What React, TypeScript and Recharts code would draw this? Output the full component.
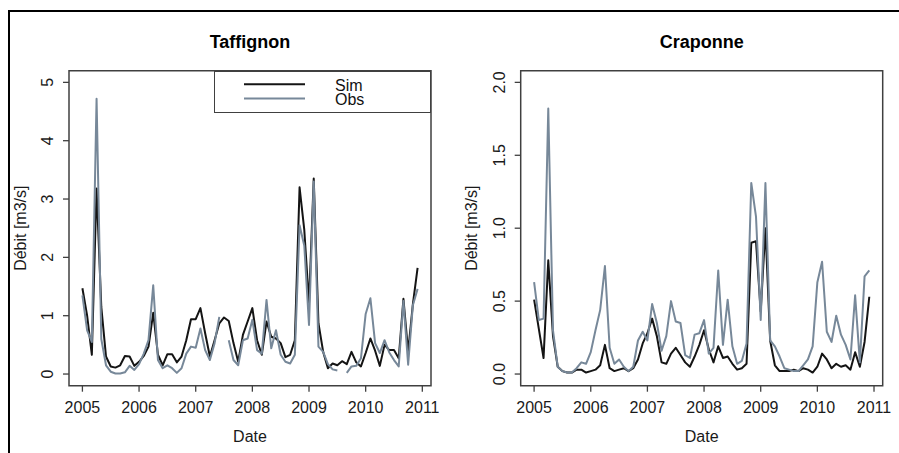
import React from 'react';
import { LineChart, Line, XAxis, YAxis, ReferenceArea, Legend } from 'recharts';

// monthly series, Jan 2005 .. Dec 2010
const startYear = 2005;
const yearTicks = [2005, 2006, 2007, 2008, 2009, 2010, 2011];

const taffignonSim = [
  1.47, 1.0, 0.33, 3.18, 1.15, 0.3, 0.13, 0.11, 0.15, 0.31, 0.3, 0.14,
  0.21, 0.31, 0.47, 1.05, 0.33, 0.15, 0.34, 0.34, 0.2, 0.3, 0.58, 0.94,
  0.94, 1.13, 0.7, 0.3, 0.58, 0.87, 0.97, 0.91, 0.53, 0.21, 0.67, 0.9,
  1.13, 0.58, 0.33, 0.9, 0.64, 0.61, 0.53, 0.29, 0.33, 0.58, 3.2, 2.47,
  1.21, 3.35, 0.87, 0.38, 0.1, 0.18, 0.15, 0.22, 0.17, 0.38, 0.2, 0.13,
  0.36, 0.61, 0.4, 0.14, 0.5, 0.41, 0.41, 0.27, 1.29, 0.38, 1.2, 1.82,
];
const taffignonObs = [
  1.35, 0.75, 0.55, 4.72, 0.6, 0.15, 0.04, 0.01, 0.01, 0.03, 0.14, 0.07,
  0.17, 0.35, 0.58, 1.52, 0.24, 0.1, 0.15, 0.1, 0.02, 0.1, 0.35, 0.47,
  0.45, 0.78, 0.41, 0.24, 0.53, 0.98, null, 0.58, 0.24, 0.15, 0.58, 0.61,
  0.93, 0.41, 0.35, 1.27, 0.44, 0.75, 0.33, 0.21, 0.18, 0.33, 2.55, 2.2,
  0.84, 3.3, 0.47, 0.38, 0.17, 0.08, 0.06, null, 0.02, 0.13, 0.14, 0.27,
  1.03, 1.3, 0.53, 0.36, 0.58, 0.37, 0.24, 0.13, 1.25, 0.16, 1.18, 1.46,
];
const craponneSim = [
  0.51, 0.31, 0.11, 0.78, 0.26, 0.05, 0.02, 0.01, 0.01, 0.03, 0.03, 0.01,
  0.02, 0.03, 0.06, 0.2, 0.04, 0.02, 0.03, 0.04, 0.02, 0.04, 0.1, 0.21,
  0.28, 0.38, 0.26, 0.08, 0.07, 0.14, 0.18, 0.13, 0.08, 0.05, 0.12, 0.2,
  0.3, 0.17, 0.08, 0.19, 0.11, 0.12, 0.07, 0.03, 0.04, 0.07, 0.9, 0.91,
  0.43, 1.0, 0.23, 0.06, 0.02, 0.02, 0.02, 0.03, 0.02, 0.04, 0.03, 0.01,
  0.05, 0.14, 0.1, 0.04, 0.07, 0.05, 0.06, 0.03, 0.15, 0.05, 0.22, 0.53,
];
const craponneObs = [
  0.63, 0.37, 0.38, 1.82, 0.3, 0.05, 0.02, 0.01, 0.01, 0.04, 0.08, 0.07,
  0.15, 0.3, 0.44, 0.74, 0.18, 0.07, 0.1, 0.05, 0.02, 0.05, 0.23, 0.29,
  0.23, 0.48, 0.35, 0.16, 0.26, 0.5, 0.36, 0.35, 0.13, 0.11, 0.27, 0.28,
  0.37, 0.14, 0.18, 0.71, 0.2, 0.51, 0.19, 0.07, 0.09, 0.21, 1.31, 1.08,
  0.37, 1.31, 0.23, 0.19, 0.12, 0.04, 0.03, 0.02, 0.02, 0.06, 0.1, 0.19,
  0.63, 0.77, 0.29, 0.22, 0.4, 0.27, 0.2, 0.1, 0.54, 0.08, 0.67, 0.71,
];

const taffignonTicks = [0, 1, 2, 3, 4, 5];
const taffignonTickLabels = ['0', '1', '2', '3', '4', '5'];
const craponneTicks = [0, 0.5, 1, 1.5, 2];
const craponneTickLabels = ['0.0', '0.5', '1.0', '1.5', '2.0'];

const FONT = '"Liberation Sans", Arial, Helvetica, sans-serif';
const SIM_COLOR = '#141414';
const OBS_COLOR = '#778899';
const FRAME = '#404040';
const H = 453;
const PLOT_TOP = 70.7;
const PLOT_BOTTOM = 385.7;

const lastX = startYear + (taffignonSim.length - 1) / 12;
const pad = 0.04 * (lastX - startYear);
const xDomain: [number, number] = [startYear - pad, lastX + pad];

const buildRows = (sim: number[], obs: (number | null)[]) =>
  sim.map((s, i) => ({ date: startYear + i / 12, sim: s, obs: obs[i] }));

const LegendBox = () => (
  <div style={{ width: 217, height: 42, boxSizing: 'border-box', border: `1.3px solid ${FRAME}`, background: '#fff' }}>
    <svg width={217} height={42} style={{ position: 'absolute', left: 0, top: 0 }}>
      <line x1={30} x2={91} y1={13.3} y2={13.3} stroke={SIM_COLOR} strokeWidth={2} />
      <line x1={30} x2={91} y1={27.6} y2={27.6} stroke={OBS_COLOR} strokeWidth={2} />
      <text x={121} y={20} fontFamily={FONT} fontSize={16} fill="#111">Sim</text>
      <text x={121} y={34} fontFamily={FONT} fontSize={16} fill="#111">Obs</text>
    </svg>
  </div>
);

interface PanelProps {
  title: string;
  sim: number[];
  obs: (number | null)[];
  yTicks: number[];
  yLabels: string[];
  left: number;
  width: number;
  plotLeft: number;
  plotRight: number;
  legend?: boolean;
}

const Panel: React.FC<PanelProps> = ({ title, sim, obs, yTicks, yLabels, left, width, plotLeft, plotRight, legend }) => {
  const rows = buildRows(sim, obs);
  const yMax = yTicks[yTicks.length - 1];
  const yDomain: [number, number] = [-0.04 * yMax, 1.04 * yMax];
  const cx = (plotLeft + plotRight) / 2;
  const cy = (PLOT_TOP + PLOT_BOTTOM) / 2;

  return (
    <div style={{ position: 'absolute', left, top: 0, width, height: H }}>
      <div
        style={{
          position: 'absolute', left: cx, top: 33, transform: 'translateX(-50%)',
          fontFamily: FONT, fontSize: 18, fontWeight: 'bold', lineHeight: '18px', whiteSpace: 'nowrap', color: '#000',
        }}
      >
        {title}
      </div>
      <LineChart
        width={width}
        height={H}
        data={rows}
        margin={{ top: PLOT_TOP, right: width - plotRight, bottom: 0, left: 0 }}
      >
        <XAxis
          dataKey="date"
          type="number"
          domain={xDomain}
          ticks={yearTicks}
          interval={0}
          height={H - PLOT_BOTTOM}
          axisLine={false}
          tickSize={6}
          tickLine={{ stroke: FRAME, strokeWidth: 1.3 }}
          tick={(p: any) => (
            <text x={p.x} y={PLOT_BOTTOM + 27.6} textAnchor="middle" fontFamily={FONT} fontSize={16} fill="#1a1a1a">
              {p.payload.value}
            </text>
          )}
          label={() => (
            <text x={cx} y={441.7} textAnchor="middle" fontFamily={FONT} fontSize={16} fill="#1a1a1a">
              Date
            </text>
          )}
        />
        <YAxis
          type="number"
          domain={yDomain}
          ticks={yTicks}
          interval={0}
          width={plotLeft}
          axisLine={false}
          tickSize={6}
          tickLine={{ stroke: FRAME, strokeWidth: 1.3 }}
          tick={(p: any) => (
            <text
              transform={`translate(${plotLeft - 16}, ${p.y}) rotate(-90)`}
              textAnchor="middle"
              fontFamily={FONT}
              fontSize={16}
              fill="#1a1a1a"
            >
              {yLabels[yTicks.indexOf(p.payload.value)]}
            </text>
          )}
          label={() => (
            <text
              transform={`translate(${plotLeft - 43.3}, ${cy}) rotate(-90)`}
              textAnchor="middle"
              fontFamily={FONT}
              fontSize={16}
              fill="#1a1a1a"
            >
              Débit [m3/s]
            </text>
          )}
        />
        <ReferenceArea
          x1={xDomain[0]}
          x2={xDomain[1]}
          y1={yDomain[0]}
          y2={yDomain[1]}
          fill="none"
          fillOpacity={0}
          stroke={FRAME}
          strokeWidth={1.5}
          ifOverflow="visible"
        />
        <Line
          dataKey="sim"
          stroke={SIM_COLOR}
          strokeWidth={2}
          strokeLinejoin="round"
          dot={false}
          activeDot={false}
          isAnimationActive={false}
        />
        <Line
          dataKey="obs"
          stroke={OBS_COLOR}
          strokeWidth={2}
          strokeLinejoin="round"
          dot={false}
          activeDot={false}
          isAnimationActive={false}
        />
        {legend && (
          <Legend
            layout="horizontal"
            verticalAlign="middle"
            align="center"
            content={() => <LegendBox />}
            wrapperStyle={{ left: plotRight - 217, top: PLOT_TOP, width: 217, height: 42 }}
          />
        )}
      </LineChart>
    </div>
  );
};

export default function App() {
  return (
    <div style={{ position: 'absolute', left: 0, top: 0, width: 899, height: 453, background: '#fff', overflow: 'hidden' }}>
      <div
        style={{
          position: 'absolute', left: 8, top: 10, width: 900, height: 460,
          borderTop: '2.5px solid #000', borderLeft: '2.5px solid #000',
        }}
      />
      <Panel
        title="Taffignon"
        sim={taffignonSim}
        obs={taffignonObs}
        yTicks={taffignonTicks}
        yLabels={taffignonTickLabels}
        left={0}
        width={450}
        plotLeft={69}
        plotRight={431}
        legend
      />
      <Panel
        title="Craponne"
        sim={craponneSim}
        obs={craponneObs}
        yTicks={craponneTicks}
        yLabels={craponneTickLabels}
        left={450}
        width={449}
        plotLeft={70.7}
        plotRight={432.7}
      />
    </div>
  );
}
